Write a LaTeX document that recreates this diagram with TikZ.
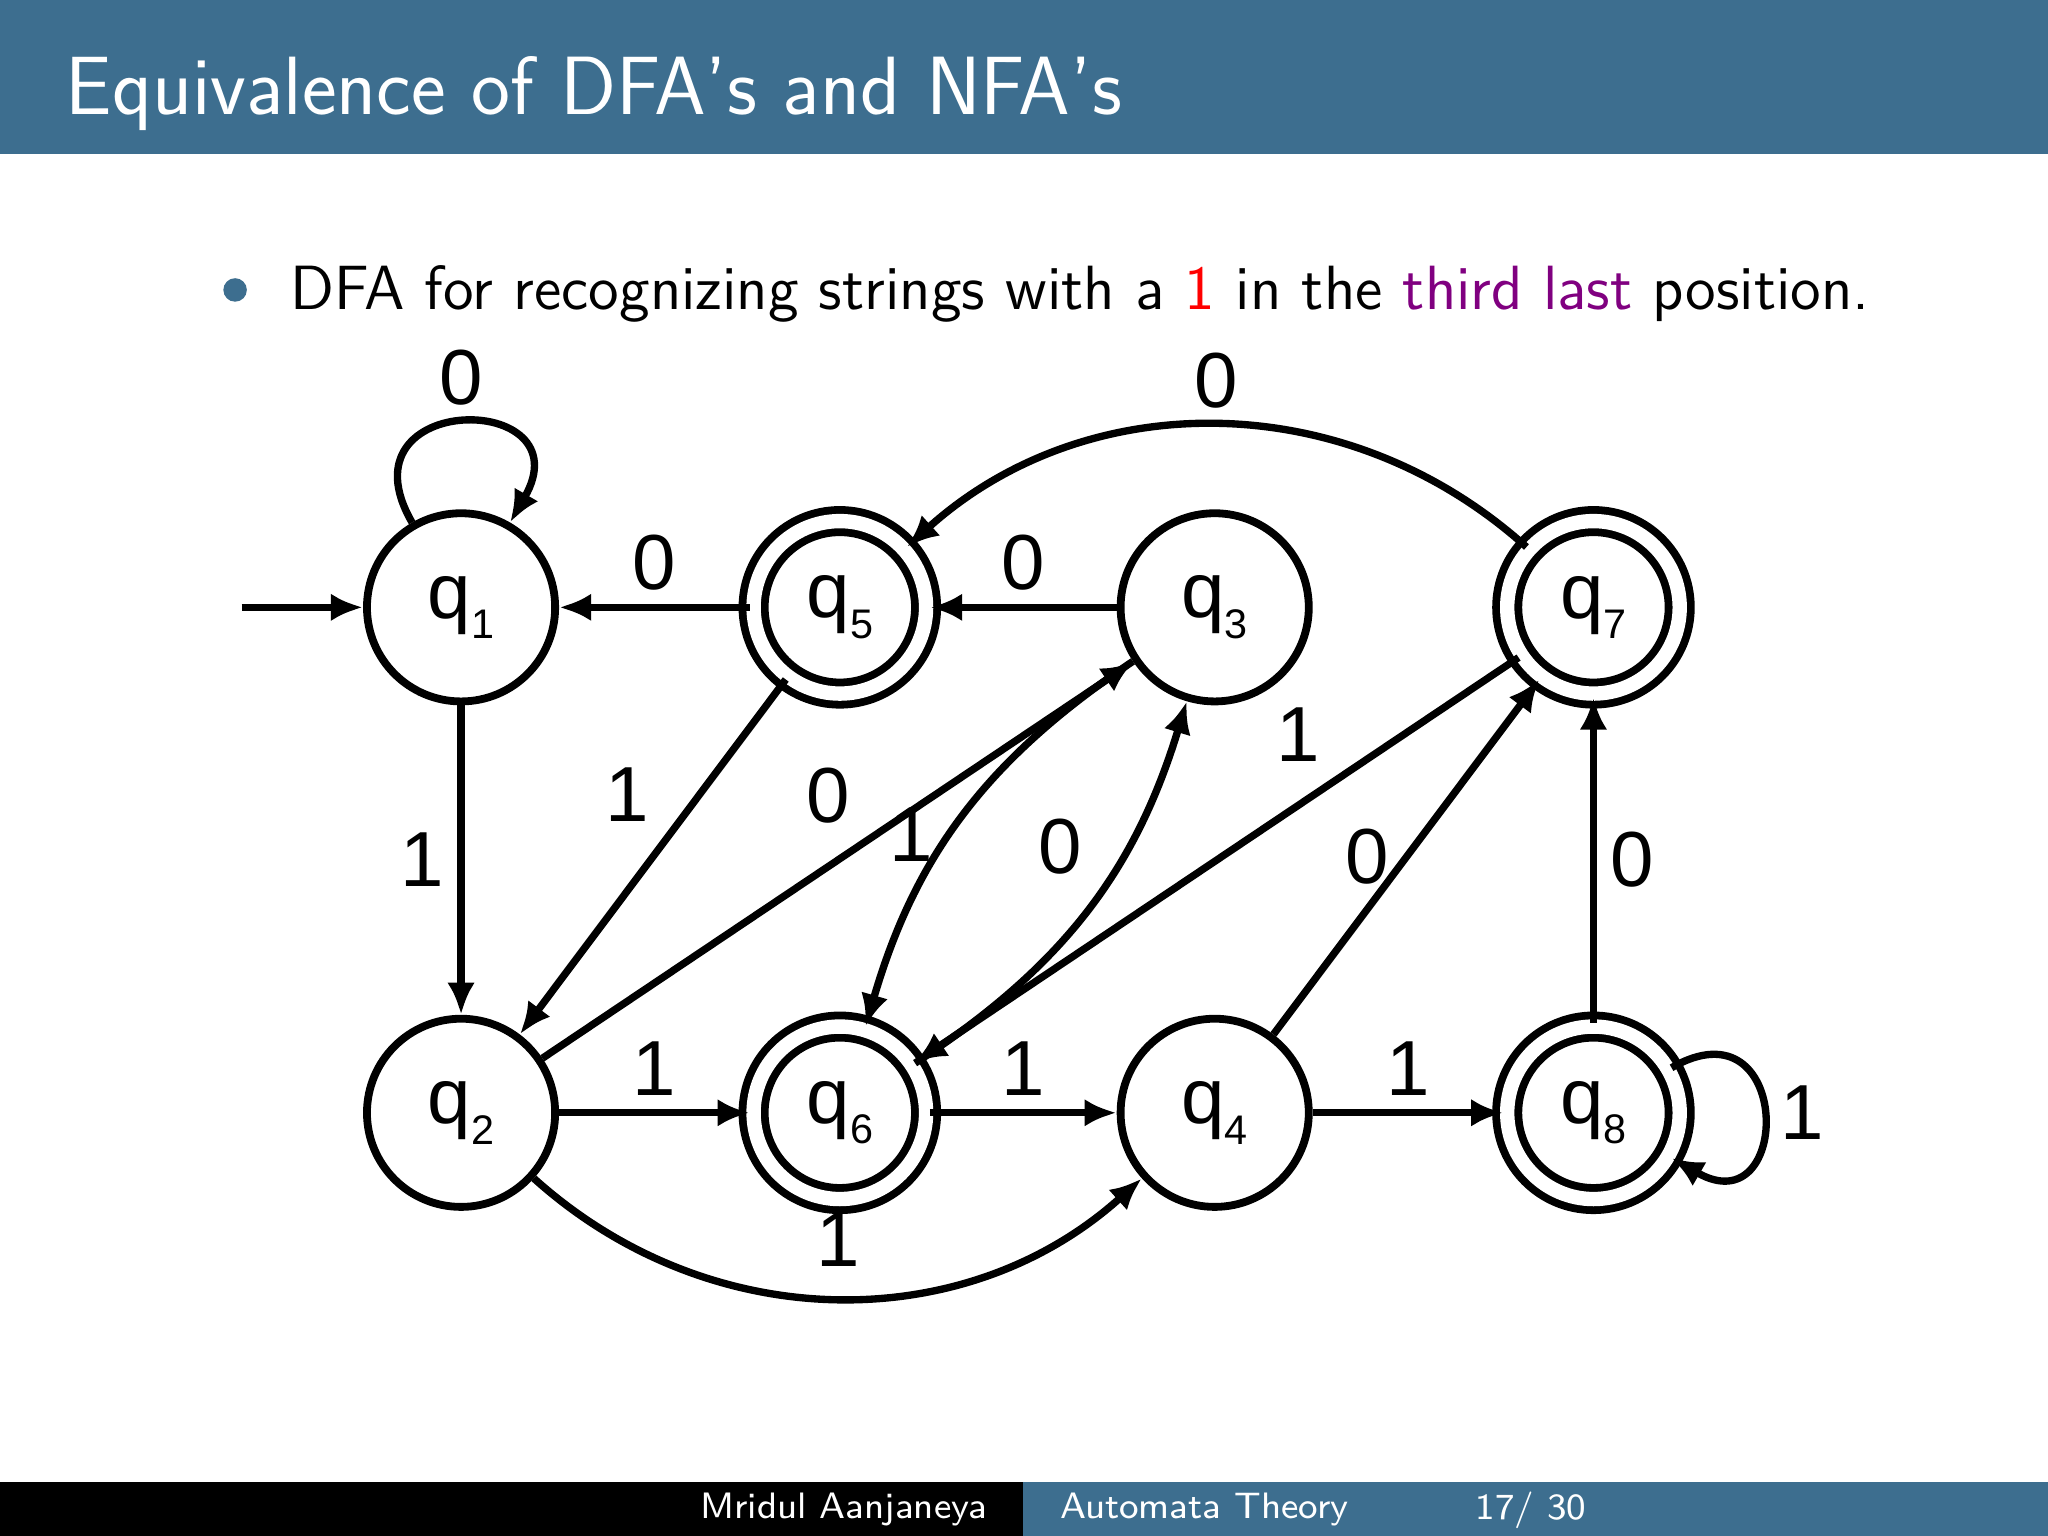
\documentclass[tikz,border=0pt]{standalone}
\usepackage{fontspec}
\usepackage{xcolor}
\usetikzlibrary{positioning,arrows.meta}
\newfontfamily\diagfont{Liberation Sans}
\newcommand{\stsub}[1]{\raisebox{-0.5ex}{\fontsize{9}{9}\selectfont #1}}
\definecolor{barblue}{RGB}{61,110,143}
\definecolor{thirdpurple}{RGB}{128,0,128}
\tikzset{
    state/.style={circle,draw,line width=1.7pt,minimum size=1.44cm,inner sep=0pt,font=\diagfont\fontsize{17}{17}\selectfont},
    accept/.style={state,double=white,double distance=0.11cm,minimum size=1.32cm},
    trans/.style={-{Latex[length=7pt,width=6pt]},line width=1.6pt},
    lbl/.style={font=\diagfont\fontsize{17}{17}\selectfont,inner sep=3pt}
}
\begin{document}
\begin{tikzpicture}[x=0.01cm,y=-0.01cm]
\useasboundingbox (0,0) rectangle (1568,1176);

% Frame
\fill[barblue] (0,0) rectangle (1568,118);
\node[anchor=base west,text=white,font=\sffamily\fontsize{18}{18}\selectfont] (title) at (38,88) {Equivalence of DFA's and NFA's};
\fill[barblue] (180,222) circle (9);
\node[anchor=base west,font=\sffamily\fontsize{13.6}{13.6}\selectfont] (bullet) at (210,237)
    {DFA for recognizing strings with a \textcolor{red}{1} in the \textcolor{thirdpurple}{third last} position.};
\fill[black] (0,1135) rectangle (783,1176);
\fill[barblue] (783,1135) rectangle (1568,1176);
\node[text=white,font=\sffamily\fontsize{8}{8}\selectfont] (author) at (646,1156) {Mridul Aanjaneya};
\node[text=white,font=\sffamily\fontsize{8}{8}\selectfont] (course) at (922,1156) {Automata Theory};
\node[text=white,font=\sffamily\fontsize{8}{8}\selectfont] (page) at (1172,1156) {17/ 30};

% States
\node[state] (q1) at (353,465) {q\stsub{1}};
\node[accept] (q5) at (643,465) {q\stsub{5}};
\node[state] (q3) at (930,465) {q\stsub{3}};
\node[accept] (q7) at (1220,465) {q\stsub{7}};
\node[state] (q2) at (353,852) {q\stsub{2}};
\node[accept] (q6) at (643,852) {q\stsub{6}};
\node[state] (q4) at (930,852) {q\stsub{4}};
\node[accept] (q8) at (1220,852) {q\stsub{8}};
\coordinate (start) at (185,465);

% Transitions
\draw[trans] (start) -- (q1);
\draw[trans] (q1) edge[out=120,in=60,looseness=4] node[lbl,above] {0} (q1);
\draw[trans] (q5) -- node[lbl,above] {0} (q1);
\draw[trans] (q3) -- node[lbl,above] {0} (q5);
\draw[trans] (q7) to[bend right=42] node[lbl,above] {0} (q5);
\draw[trans] (q1) -- node[lbl,left] {1} (q2);
\draw[trans] (q5) -- node[lbl,above left,pos=0.45] {1} (q2);
\draw[trans] (q2) -- node[lbl,above left,pos=0.55] {0} (q3);
\draw[trans] (q3) to[bend right=20] node[lbl,left,pos=0.55] {1} (q6);
\draw[trans] (q6) to[bend right=20] node[lbl,above left,pos=0.55] {0} (q3);
\draw[trans] (q7) -- node[lbl,above left,pos=0.3] {1} (q6);
\draw[trans] (q4) -- node[lbl,left,pos=0.5] {0} (q7);
\draw[trans] (q8) -- node[lbl,right] {0} (q7);
\draw[trans] (q2) -- node[lbl,above] {1} (q6);
\draw[trans] (q6) -- node[lbl,above] {1} (q4);
\draw[trans] (q4) -- node[lbl,above] {1} (q8);
\draw[trans] (q2) to[bend right=42] node[lbl,above=3pt] {1} (q4);
\draw[trans] (q8) edge[out=30,in=-30,looseness=4] node[lbl,right] {1} (q8);
\end{tikzpicture}
\end{document}
